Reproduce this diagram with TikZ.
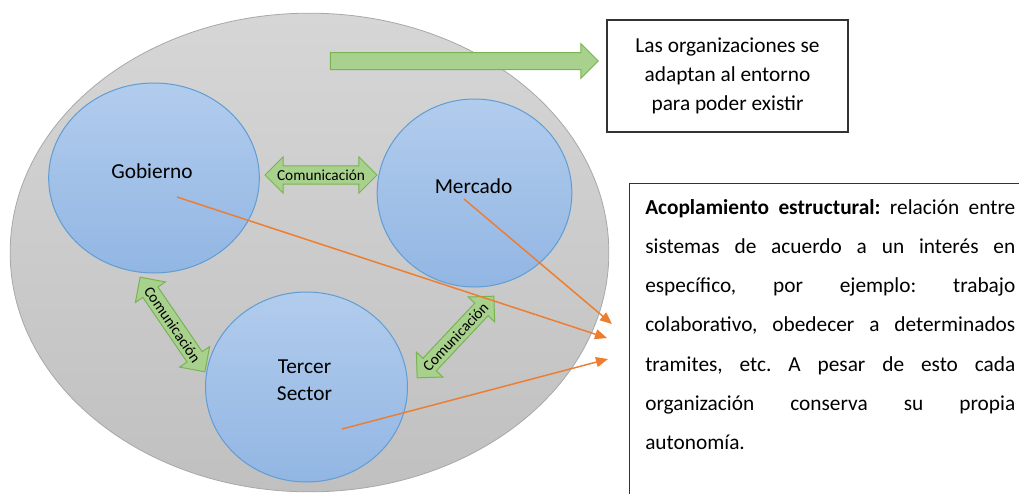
\documentclass[tikz,border=0pt]{standalone}
\usepackage{fontspec}
\setmainfont{Carlito}
\usetikzlibrary{shapes.geometric, shapes.arrows, arrows.meta, calc}

\definecolor{envtop}{RGB}{214,214,214}
\definecolor{envbot}{RGB}{192,192,192}
\definecolor{envline}{RGB}{168,168,168}
\definecolor{orgtop}{RGB}{178,204,237}
\definecolor{orgbot}{RGB}{146,182,227}
\definecolor{orgline}{RGB}{96,157,212}
\definecolor{arrfill}{RGB}{169,209,142}
\definecolor{arrline}{RGB}{120,180,80}
\definecolor{linkcol}{RGB}{237,125,49}

\begin{document}
\begin{tikzpicture}[x=0.75pt, y=-0.75pt, font=\fontsize{16}{19.5}\selectfont,
env/.style = {ellipse, draw=envline, line width=0.6pt, top color=envtop, bottom color=envbot, inner sep=0pt},
org/.style = {ellipse, draw=orgline, line width=0.75pt, top color=orgtop, bottom color=orgbot, inner sep=0pt},
lbl/.style = {align=center, inner sep=0pt, font=\fontsize{16}{20.25}\selectfont},
comm/.style = {double arrow, draw=arrline, fill=arrfill, line width=0.75pt,
      double arrow head extend=6.75pt, inner xsep=-12pt, inner ysep=2.5pt,
      minimum height=84pt, font=\fontsize{11.5}{12}\selectfont},
bigarrow/.style = {single arrow, draw=arrline, fill=arrfill, line width=0.75pt,
      single arrow head extend=6.75pt, inner xsep=0pt, inner ysep=6pt},
textbox/.style = {rectangle, draw=black!80, line width=1.1pt, inner sep=0pt},
link/.style = {draw=linkcol, line width=1.1pt, -{Triangle[length=9pt, width=7.5pt]}},
]
 \useasboundingbox (0,0) rectangle (1019,493);
 \clip (0,0) rectangle (1019,493);

 % entorno
 \node[env, minimum width=449pt, minimum height=359pt] (entorno) at (309.5,252.5) {};

 % organizaciones
 \node[org, minimum width=158pt, minimum height=142.5pt] (gob) at (154,178) {};
 \node[org, minimum width=146pt, minimum height=141pt] (mer) at (474.5,193) {};
 \node[org, minimum width=151.5pt, minimum height=142.5pt] (ter) at (306.5,387) {};
 \node[lbl] (gobtxt) at ($(gob)+(-2,-7)$) {Gobierno};
 \node[lbl] (mertxt) at ($(mer)+(-1,-7)$) {Mercado};
 \node[lbl] (tertxt) at ($(ter)+(-2,-7)$) {Tercer\\Sector};

 % comunicacion
 \node[comm] (commGM) at (321,175) {Comunicación};
 \node[comm, rotate=-55.6, minimum height=86pt] (commGT) at (172.5,324.5) {Comunicación};
 \node[comm, rotate=46.8] (commTM) at (455.5,337) {Comunicación};

 % cuadros de texto
 \node[textbox, minimum width=180.75pt, minimum height=84pt, align=center,
   font=\fontsize{16}{21.75}\selectfont] (adapta) at (727.5,76)
   {Las organizaciones se\\adaptan al entorno\\para poder existir};
 \node[bigarrow, minimum height=201pt] (flecha) at (460,61) {};

 \node[textbox, anchor=north west, minimum width=315pt, minimum height=255pt] (acoplbox) at (629,183) {};
 \node[anchor=north west, inner sep=0pt, text width=277.5pt, align=justify,
   font=\fontsize{16}{29.4}\selectfont\frenchspacing] (acopl) at (645,199)
   {\tolerance 10000 \hyphenpenalty 10000
    \textbf{Acoplamiento estructural:} relación entre\linebreak
    sistemas de acuerdo a un interés en\linebreak
    específico, por ejemplo: trabajo\linebreak
    colaborativo, obedecer a determinados\linebreak
    tramites, etc. A pesar de esto cada\linebreak
    organización conserva su propia\linebreak
    autonomía.};

 % enlaces
 \coordinate (gobP) at (177,197);
 \coordinate (merP) at (464,199);
 \coordinate (terP) at (342,429);
 \coordinate (acoplA) at (612,324);
 \coordinate (acoplB) at (607,338);
 \coordinate (acoplC) at (608,359);
 \draw[link] (gobP) -- (acoplB);
 \draw[link] (merP) -- (acoplA);
 \draw[link] (terP) -- (acoplC);
\end{tikzpicture}
\end{document}
